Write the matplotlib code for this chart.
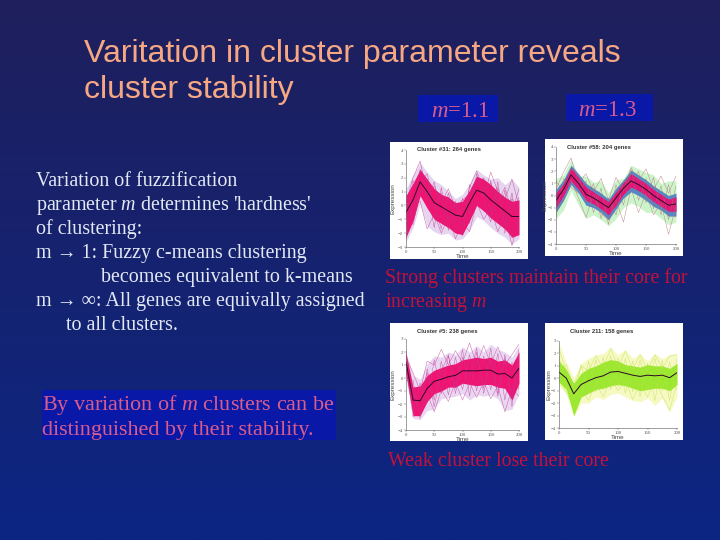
import matplotlib
matplotlib.use('Agg')
import matplotlib.pyplot as plt
import numpy as np

plt.rcParams['font.family'] = ['Liberation Serif', 'DejaVu Sans']
plt.rcParams['mathtext.fontset'] = 'custom'
plt.rcParams['mathtext.rm'] = 'Liberation Serif'
plt.rcParams['mathtext.it'] = 'Liberation Serif:italic'

# time samples shared by all panels
time = [0, 12.5, 25, 37.5, 50, 62.5, 75, 87.5, 100, 112.5, 125, 137.5, 150, 162.5, 175, 187.5, 200]
time_ticks = [0, 50, 100, 150, 200]

# panel 1, m=1.1, strong cluster
p1_mean = [-0.5, 0.4, 1.7, 1.0, 0.2, -0.1, -0.4, -0.7, -0.8, 0.2, 1.1, 0.9, 0.4, 0.0, -0.4, -0.8, -0.8]
p1_core_high = [0.7, 1.6, 2.6, 1.9, 1.2, 0.8, 0.6, 0.2, 0.3, 1.1, 2.1, 1.9, 1.5, 1.0, 0.6, 0.3, 0.4]
p1_core_low = [-2.3, -1.1, 0.7, -0.2, -1.0, -1.3, -1.6, -2.0, -2.1, -1.1, 0.0, -0.4, -0.9, -1.3, -1.7, -2.3, -2.1]
p1_wide_high = [1.2, 2.2, 3.1, 2.4, 1.8, 1.5, 1.0, 0.5, 0.8, 1.6, 2.6, 2.2, 1.9, 2.0, 1.5, 1.9, 1.3]
p1_wide_low = [-2.6, -1.6, 0.1, -1.5, -1.9, -2.1, -2.0, -2.5, -2.4, -1.8, -0.8, -1.1, -1.6, -2.0, -2.3, -2.8, -2.4]
p1_wisps = [
    [0.2, 2.0, 3.2, 0.8, 1.4, 0.2, 1.2, -0.2, 0.4, 0.8, 2.0, 0.6, 2.4, 1.0, 0.4, 1.9, 0.0],
    [-1.5, 0.4, 0.3, -1.7, -0.6, -2.0, -0.8, -2.4, -1.2, -1.9, 0.2, -1.0, -0.2, -1.9, -0.6, -2.9, -1.0],
    [0.4, -0.8, 1.6, 2.3, -0.2, 0.9, -1.0, 0.3, -1.5, 1.3, 2.5, 1.0, 1.6, 0.2, 1.3, -0.5, 1.2],
    [-2.4, -0.2, 2.6, 0.4, 1.7, -0.9, 0.6, -1.9, 0.5, -0.6, 1.4, 2.0, -0.9, 1.7, -1.5, 0.9, -2.2],
    [0.9, -1.4, 1.0, 1.2, -1.6, 1.3, -1.8, 0.1, -2.2, 1.5, 0.5, -0.4, 1.8, -1.3, 1.1, -2.3, 0.6],
    [-1.0, 1.8, 0.6, 1.9, 0.1, -1.7, 0.9, -1.2, -0.1, -1.3, 2.3, 0.3, -1.2, 1.3, -2.0, 0.5, -1.6],
]

# panel 2, m=1.3, strong cluster
p2_mean = [-0.4, 0.5, 1.7, 1.0, 0.1, -0.2, -0.6, -1.0, -0.2, 0.6, 1.2, 0.9, 0.5, 0.0, -0.4, -0.8, -0.7]
p2_core_high = [0.2, 1.0, 2.3, 1.5, 0.7, 0.3, -0.1, -0.5, 0.3, 1.1, 1.8, 1.4, 1.0, 0.5, 0.1, -0.3, -0.1]
p2_core_low = [-1.0, 0.0, 1.2, 0.5, -0.4, -0.7, -1.1, -1.6, -0.8, 0.1, 0.7, 0.4, 0.0, -0.5, -0.9, -1.3, -1.3]
p2_mid_high = [0.5, 1.3, 2.5, 1.8, 1.0, 0.6, 0.2, -0.3, 0.6, 1.3, 2.1, 1.7, 1.3, 0.8, 0.4, 0.0, 0.2]
p2_mid_low = [-1.4, -0.4, 0.9, 0.2, -0.8, -1.0, -1.4, -2.0, -1.1, -0.2, 0.3, 0.0, -0.4, -0.9, -1.2, -1.7, -1.7]
p2_wide_high = [1.4, 1.7, 3.0, 1.6, 1.6, 1.1, 1.2, 0.2, 1.3, 1.4, 2.5, 2.2, 1.9, 1.7, 1.0, 1.2, 1.2]
p2_wide_low = [-1.9, -1.2, 0.4, -0.8, -1.9, -1.6, -2.0, -2.5, -1.9, -1.0, -0.6, -0.9, -1.4, -1.4, -1.9, -2.4, -2.2]
p2_wisps = [
    [0.5, 1.9, 3.1, 1.0, 1.8, 0.3, 1.4, -0.4, 1.5, 0.4, 2.3, 1.2, 2.2, 0.5, 1.6, 0.2, 1.6],
    [-1.2, -0.4, 1.3, -0.2, -1.8, 0.1, -1.5, -2.0, -0.4, -2.2, 0.6, -1.4, 0.2, -1.6, -0.6, -3.2, -0.9],
    [1.2, 0.3, 2.2, 1.7, -0.6, 1.0, -1.9, -0.2, -1.6, 1.2, 1.0, 2.0, -0.6, 1.5, -1.6, 0.9, -1.8],
    [-1.8, 1.4, 0.7, 0.2, 1.2, -1.4, 0.6, -2.4, 0.9, -0.8, 2.1, -0.4, 1.4, -1.1, 0.8, -2.0, 0.8],
]

# panel 3, m=1.1, weak cluster
p3_mean = [1.25, -1.7, -1.75, -0.8, -0.25, -0.1, 0.1, 0.2, 0.55, 0.55, 0.55, 0.6, 0.6, 0.3, 0.35, 0.0, 0.75]
p3_core_high = [1.9, -0.7, -0.6, 0.2, 0.6, 0.8, 1.0, 1.1, 1.4, 1.5, 1.6, 1.5, 1.6, 1.3, 1.4, 1.0, 2.0]
p3_core_low = [0.3, -2.9, -2.9, -1.8, -1.2, -1.0, -0.7, -0.7, -0.4, -0.5, -0.6, -0.5, -0.5, -0.7, -0.8, -1.7, -0.4]
p3_wide_high = [2.0, 0.2, -0.1, 1.1, 1.7, 1.6, 2.0, 1.8, 2.4, 2.0, 2.5, 2.0, 2.6, 2.2, 2.0, 1.6, 2.5]
p3_wide_low = [-0.1, -3.1, -3.2, -2.5, -2.4, -1.6, -1.5, -1.4, -1.2, -1.7, -1.3, -1.4, -1.3, -1.6, -2.5, -2.4, -1.2]
p3_wisps = [
    [1.6, 0.4, -1.0, 1.3, 1.0, 2.2, 1.0, 2.1, 1.2, 2.7, 1.0, 2.5, 1.1, 2.4, 1.0, 1.8, 2.6],
    [0.4, -1.0, -2.9, -1.2, -2.6, -0.9, -1.8, -0.3, -1.7, -0.4, -1.5, -0.3, -1.6, -0.6, -2.6, -0.8, -1.4],
    [2.1, -2.6, -0.4, -1.9, 1.4, -1.2, 1.7, -0.8, 2.2, -1.4, 2.0, -0.8, 2.3, -1.2, 1.8, -2.2, 1.9],
    [-0.2, -0.2, -3.1, 0.7, -1.7, 1.3, -1.3, 1.6, -0.9, 1.8, -1.0, 1.7, -0.9, 1.9, -1.7, 1.2, -0.9],
    [1.0, -3.0, -1.6, 0.4, -2.2, 0.5, 1.8, -1.2, 1.6, 0.1, 2.3, -1.2, 1.4, -1.4, 1.5, -1.6, 2.2],
]

# panel 4, m=1.3, weak cluster
p4_mean = [0.5, 0.0, -1.25, -0.5, -0.2, 0.05, 0.2, 0.5, 0.55, 0.4, 0.25, 0.15, 0.25, 0.2, 0.25, 0.05, 0.45]
p4_core_high = [1.4, 0.7, -0.4, 0.4, 0.8, 1.0, 1.3, 1.5, 1.4, 1.1, 1.0, 0.9, 1.1, 1.0, 1.0, 0.8, 1.2]
p4_core_low = [-0.3, -0.9, -3.0, -1.5, -1.2, -0.9, -0.8, -0.6, -0.5, -0.6, -0.8, -1.0, -0.9, -0.8, -0.8, -1.0, -0.5]
p4_wide_high = [2.8, 1.3, 0.0, 1.2, 1.6, 1.9, 2.0, 2.5, 1.9, 2.3, 1.6, 2.0, 1.4, 2.0, 1.6, 1.9, 2.0]
p4_wide_low = [-0.6, -1.3, -3.1, -2.0, -2.0, -1.5, -1.7, -1.3, -1.2, -1.5, -1.8, -1.9, -1.6, -2.2, -1.6, -2.7, -1.5]
p4_wisps = [
    [2.4, 0.5, -0.6, 1.0, 0.6, 1.8, 0.8, 2.4, 0.9, 2.2, 0.7, 1.9, 0.6, 1.9, 0.8, 1.8, 1.9],
    [-0.2, -1.1, -2.4, -0.6, -1.8, -0.4, -1.5, 0.0, -1.0, -0.2, -1.7, -0.4, -1.5, -0.2, -1.4, -2.6, -0.3],
    [1.7, -0.6, -1.8, 1.1, -1.2, 1.5, -0.9, 1.8, -0.7, 1.6, -1.1, 1.5, -1.0, 1.6, -1.0, 1.3, -1.0],
    [0.2, 1.1, -0.9, -1.6, 1.4, -1.1, 1.7, -0.9, 1.6, -1.2, 1.4, -1.5, 1.2, -1.8, 1.4, -1.8, 1.6],
]

W, H = 720, 540
PINK = '#f2126f'
WHITE_TEXT = '#e2e8f4'
SALMON = '#f5a883'
ROSE = '#d95c8c'
RED = '#c0123a'
BOX_BLUE = '#0a18a8'

fig = plt.figure(figsize=(7.2, 5.4), dpi=100)

# slide background, written in pixel coordinates
bg = fig.add_axes([0, 0, 1, 1])
gradient = np.linspace(0, 1, 256).reshape(-1, 1, 1)
top = np.array([31, 31, 92]) / 255
bottom = np.array([12, 38, 132]) / 255
bg.imshow(top + gradient * (bottom - top), extent=[0, W, H, 0], aspect='auto')
bg.set_xlim(0, W)
bg.set_ylim(H, 0)
bg.axis('off')


def add_box(x0, y0, x1, y1, color):
    bg.add_patch(plt.Rectangle((x0, y0), x1 - x0, y1 - y0, color=color, lw=0))


def add_panel(box, frame, title, mean, core, wide, wisps, yticks, colors, label_off, mid=None, mid_color=None):
    add_box(box[0], box[1], box[2], box[3], 'white')
    ax = fig.add_axes([frame[0] / W, 1 - frame[3] / H, (frame[2] - frame[0]) / W, (frame[3] - frame[1]) / H])
    ax.patch.set_alpha(0)
    ax.fill_between(time, wide[0], wide[1], color=colors[0], alpha=0.45, lw=0)
    for wisp in wisps:
        ax.plot(time, wisp, color=colors[1], lw=0.25, alpha=0.6)
    if mid is not None:
        ax.fill_between(time, mid[0], mid[1], color=mid_color, alpha=0.85, lw=0)
    ax.fill_between(time, core[0], core[1], color=colors[2], lw=0)
    # strands over the core edge so it does not read as a flat polygon
    for wisp in wisps:
        ax.plot(time, wisp, color=colors[2], lw=0.3, alpha=0.5)
    ax.plot(time, mean, color='#2a0a28', lw=0.7)
    ax.set_xlim(0, 200)
    ax.set_ylim(yticks[0], yticks[-1])
    ax.set_xticks(time_ticks)
    ax.set_yticks(yticks)
    ax.tick_params(labelsize=3.5, length=1.2, width=0.3, pad=1, colors='#555555')
    for name in ['top', 'right']:
        ax.spines[name].set_visible(False)
    for name in ['left', 'bottom']:
        ax.spines[name].set_linewidth(0.4)
        ax.spines[name].set_color('#555555')
    ax.set_xlabel('Time', fontsize=4.5, family='Liberation Sans', labelpad=0, color='#444444')
    ax.set_ylabel('Expression', fontsize=4.5, family='Liberation Sans', color='#444444')
    ax.yaxis.set_label_coords(-label_off / (frame[2] - frame[0]), 0.5)
    bg.text(frame[0] + 11, box[1] + 8, title, fontsize=4.2, family='Liberation Sans',
            weight='bold', color='#333333', va='center')


add_panel((390, 142, 528, 259), (406, 150, 519, 247), 'Cluster #31: 264 genes', p1_mean,
          (p1_core_low, p1_core_high), (p1_wide_low, p1_wide_high), p1_wisps,
          [-3, -2, -1, 0, 1, 2, 3, 4], ('#c8a2dc', '#8a5fc0', PINK), 11)
add_panel((545, 139, 683, 256), (556, 147, 676, 244), 'Cluster #58: 204 genes', p2_mean,
          (p2_core_low, p2_core_high), (p2_wide_low, p2_wide_high), p2_wisps,
          [-4, -3, -2, -1, 0, 1, 2, 3, 4], ('#8ee88a', '#7ed870', '#e01678'), 8,
          mid=(p2_mid_low, p2_mid_high), mid_color='#3a78c8')
add_panel((390, 323, 528, 441), (406, 339, 519, 430), 'Cluster #5: 238 genes', p3_mean,
          (p3_core_low, p3_core_high), (p3_wide_low, p3_wide_high), p3_wisps,
          [-4, -3, -2, -1, 0, 1, 2, 3], ('#cfa8e0', '#8a6fd0', PINK), 11)
add_panel((545, 323, 683, 440), (559, 341, 677, 428), 'Cluster 211: 158 genes', p4_mean,
          (p4_core_low, p4_core_high), (p4_wide_low, p4_wide_high), p4_wisps,
          [-4, -3, -2, -1, 0, 1, 2, 3], ('#eef27c', '#e8e060', '#9be830'), 7)

# title
bg.text(84, 62, 'Varitation in cluster parameter reveals', fontsize=23, family='Liberation Sans', color=SALMON)
bg.text(84, 98, 'cluster stability', fontsize=23, family='Liberation Sans', color=SALMON)

# m labels
add_box(418, 95, 498, 122, BOX_BLUE)
add_box(566, 94, 653, 121, BOX_BLUE)
bg.text(431, 117, '$m$=1.1', fontsize=16.5, color=ROSE)
bg.text(578, 116, '$m$=1.3', fontsize=16.5, color=ROSE)

# left hand text
body_lines = [
    (36, 186, 'Variation of fuzzification'),
    (36, 210, "parameter $m$ determines 'hardness'"),
    (36, 234, 'of clustering:'),
    (36, 258, 'm → 1: Fuzzy c-means clustering'),
    (101, 282, 'becomes equivalent to k-means'),
    (36, 306, 'm → ∞: All genes are equivally assigned'),
    (66, 330, 'to all clusters.'),
]
for x, y, line in body_lines:
    bg.text(x, y, line, fontsize=14.4, color=WHITE_TEXT)

add_box(42, 390, 336, 440, BOX_BLUE)
bg.text(42, 410, 'By variation of $m$ clusters can be', fontsize=15.9, color=ROSE)
bg.text(42, 435, 'distinguished by their stability.', fontsize=15.9, color=ROSE)

# captions
bg.text(385, 283, 'Strong clusters maintain their core for', fontsize=14.3, color=RED)
bg.text(385, 307, 'increasing $m$', fontsize=14.3, color=RED)
bg.text(388, 466, 'Weak cluster lose their core', fontsize=14.3, color=RED)

plt.savefig('out.png', dpi=100)
plt.close()
